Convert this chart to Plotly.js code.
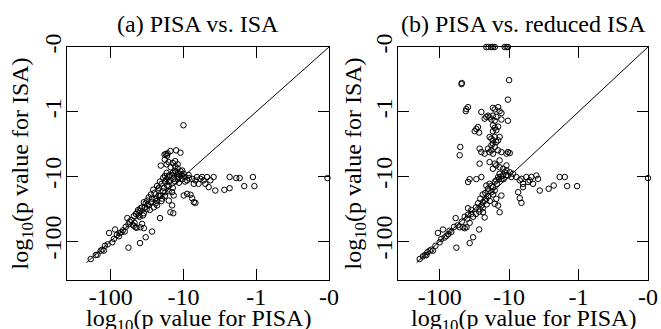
<!DOCTYPE html>
<html><head><meta charset="utf-8">
<script src="https://cdn.plot.ly/plotly-3.0.1.min.js"></script>
<style>html,body{margin:0;padding:0;background:#fff}#c{width:661px;height:329px}</style>
</head><body><div id="c"></div>
<script>
// log10(p value) for each gene set, panel (a): PISA vs ISA
const pisaA = [-188,-160,-152,-137,-130,-124,-105,-87,-95,-77,-71,-64,-57,-59,-50,-47,-45.5,-44,-41,-39,-39,-39.5,-33,-27,-43,-39,-35,-31.5,-30,-28,-25.5,-24,-23,-22.5,-21.8,-21,-20.3,-19.6,-18.6,-17.7,-16.8,-15.9,-15.1,-14.3,-13.6,-12.9,-12.2,-11.6,-11,-10.4,-9.9,-15.9,-14.3,-15.1,-13.8,-13.6,-14.3,
-9.4,-8.9,-8.45,-7.6,-7.2,-6.85,-6.5,-6.2,-5.85,-5.55,-5.27,-5,-4.74,-4.5,-4.27,-3.85,-3.65,-2.74,-2.32,-2.32,-1.88,-1.69,-1.46,-1.11,-1.06,-0.105,
-9.9,-8.9,-8.0,-7.6,-7.2,-6.85,
-25,-22,-20,-18,-17,-16,-19,-21,-23,-26,-28,-30,-33,-35,-37,-42,-45,-48,-52,-55,-36,-32,-27,-24,-20,-18,-16,-14,-13,-12,-11.5,-10.5,-12,-13,-14,-15.5,-17,-18,-11,-10,-9.5,-8.5,-16,-19,-21,-23,-29,-31,-34,-40,-57,-62,-68,-75,-82,-90,-110,-120,-48,-37,-35,
-10,-12.6,-11,-17.5,-16.8,-18.2,-16.5,-15.1,-16,-17,-14,-12,-18,-13,-20.5,-15,-13,-12];
const isaA = [-189,-164,-162,-140,-135,-140,-74.7,-66,-104,-84,-73,-71,-126,-44,-56,-52,-61,-62,-40,-31,-61,-107,-87,-71,-36,-34,-37,-23.6,-28,-25,-30,-22,-28,-16,-15,-44,-19.7,-22,-15,-17.5,-13.8,-12.2,-11.5,-9.65,-10.9,-8.6,-9.65,-10.2,-9.1,-8.1,-9.1,-23.6,-28,-35.7,-37,-19.7,-17.5,
-10.2,-11.5,-10.6,-10.9,-13,-11.5,-10.2,-13,-10.9,-10.2,-11.5,-13,-10.2,-14.6,-11.5,-10.2,-16.5,-16.1,-10.2,-15.2,-10.6,-10.6,-14.1,-10.2,-14.1,-10.6,
-19.7,-18.6,-19.2,-21.7,-25,-25.6,
-18,-20,-13,-12,-11,-10,-10.5,-12,-14,-16,-19,-21,-26,-25,-30,-33,-38,-41,-47,-50,-40,-32,-22,-26,-24,-20,-17,-15,-12,-11,-12.5,-11,-9,-8.2,-8.8,-9.5,-8.8,-9.8,-8.3,-10,-12,-9.5,-14,-17,-20,-24,-33,-27,-30,-42,-55,-60,-68,-75,-80,-92,-112,-118,-58,-54,-63,
-1.62,-3.95,-4.3,-4.5,-4.8,-4.6,-4.4,-4.05,-6,-6.5,-6.2,-6.5,-5.5,-5.8,-6.8,-7.2,-7,-7.5];

// panel (b): PISA vs reduced ISA
const pisaB = [-21.3,-19.8,-18,-17.1,-16.1,-11.6,-10.9,-10.4,
-10,-48.5,-48,-10.4,-42,-41.3,-39.1,-25.1,-17.1,-16.1,-14.4,-13.7,-12.9,-22.5,-21.3,-20.1,-19.1,-18,-17.1,-15.3,-16.1,-12.9,-10.4,
-28.1,-29.6,-31.3,-27,-17.1,-16.1,-15.3,-14.4,-17.1,-19.1,-18,-17.1,-16.1,-14.4,-13.7,-50.5,-51.5,
-26.6,-25.1,-22.5,-20.1,-19.1,-18,-17.1,-16.1,-14.4,-12.9,-18,-17.1,-15.3,-10.4,-9.8,-10.9,-26.6,-19.1,-16.1,-13.7,
-194,-164,-155,-139,-132,-125,-106,-89.6,-100,-80,-72,-58.8,-57.5,-51.5,-46,-43.6,-41,-39,-37,-33,-27,-43.6,-39,-35,-37,
-39,-37,-29.6,-25.1,-23.8,-22.5,-21.3,-25,-26.6,-23.8,-22.5,
-21.3,-20.1,-19.1,-18,-17.1,-16.1,-15.3,-14.4,-13.7,-12.9,-12.2,-11.6,-10.9,-10.4,-9.8,-9.3,-8.8,
-14.4,-13.7,-15.3,-16.1,-12.9,
-7.86,-7.03,-6.65,-6.3,-5.64,-5.34,-5.05,-4.78,-4.52,-4.05,-3.83,-3.62,-2.69,-2.28,-1.87,-1.58,-1.46,-1.05,-0.1,
-7.4,-7.03,-6.65,-6.3,-15.3,-13.7,-12.2,-10.9,-17.1,
-30,-28,-26,-24,-22,-20,-18,-16,-15,-14,-13,-12,-11,-35,-40,-48,-55,-62,-68,-75,-85,-95,-115,-150,-175,-20,-17,-19,-21,-24,-27,-30,-33];
const isaB = [-0.1,-0.1,-0.1,-0.1,-0.1,-0.1,-0.1,-0.1,
-0.325,-0.375,-0.36,-0.65,-0.98,-0.91,-0.85,-1.01,-0.87,-0.92,-0.85,-0.98,-1.05,-1.28,-1.2,-1.15,-1.22,-1.32,-1.15,-1.2,-1.38,-1.32,-1.38,
-1.72,-1.85,-2.0,-2.1,-1.62,-1.78,-1.93,-1.7,-2.0,-2.46,-2.6,-2.77,-2.46,-2.77,-2.46,-3.5,-4.7,
-3.72,-4.2,-4.45,-3.72,-4.2,-3.95,-4.45,-3.5,-3.95,-4.2,-3.3,-3.11,-2.94,-4.2,-4.35,-4.45,-6.35,-6.0,-6.35,-5.65,
-189,-164,-164,-140,-135,-140,-74.7,-66,-104,-83,-69,-44,-126,-61,-61,-63,-61,-31,-107,-87,-66,-42,-39,-38,-52,
-12.2,-11,-11,-10.2,-25,-23.6,-22.2,-28.2,-31.7,-35.7,-43,
-13.8,-15.5,-13,-17.5,-14.6,-16.5,-11.5,-10.2,-9.1,-10.9,-9.65,-8.6,-8.07,-9.65,-8.6,-10.2,-9.1,
-28.2,-35.7,-22.2,-26.5,-19.7,
-10.2,-11.5,-10.9,-13,-10.2,-12.2,-11.5,-10.2,-13,-9.65,-10.9,-16.5,-15.5,-13.8,-10.2,-10.2,-14.1,-14.1,-10.6,
-17.5,-21.7,-25.6,-14.6,-6.75,-7.2,-7.6,-6.75,-7.6,
-30,-26,-22,-19,-18,-17,-14,-12,-13,-11,-10,-11,-9.5,-33,-45,-50,-57,-60,-72,-78,-88,-93,-118,-148,-172,-20,-19,-24,-27,-31,-35,-38,-42];

// diagonal reference line (equal p values)
const diagLogP = [-215, -0.1];
// tick labels
const tickLogP = [-100, -10, -1, -0.1];
const tickText = ['-100', '-10', '-1', '-0'];

const tf = L => -Math.log10(-L);
const minorVals = [];
[0.1, 1, 10, 100].forEach(d => { for (let k = 2; k <= 9; k++) { if (k * d <= 400) minorVals.push(tf(-k * d)); } });

const F = '"Liberation Serif", "Times New Roman", serif';
const mk = {symbol: 'circle-open', size: 5.5, color: '#000', line: {width: 1, color: '#000'}};
const traces = [
  {x: pisaA.map(tf), y: isaA.map(tf), mode: 'markers', marker: mk, xaxis: 'x', yaxis: 'y', cliponaxis: false},
  {x: diagLogP.map(tf), y: diagLogP.map(tf), mode: 'lines', line: {color: '#000', width: 1}, xaxis: 'x', yaxis: 'y'},
  {x: pisaB.map(tf), y: isaB.map(tf), mode: 'markers', marker: mk, xaxis: 'x2', yaxis: 'y2', cliponaxis: false},
  {x: diagLogP.map(tf), y: diagLogP.map(tf), mode: 'lines', line: {color: '#000', width: 1}, xaxis: 'x2', yaxis: 'y2'}
];
function major(domain, anchor, isY) {
  const a = {
    domain, anchor, range: [-2.6, 1], tickmode: 'array', tickvals: tickLogP.map(tf), ticktext: tickText,
    ticks: 'inside', ticklen: 11, tickwidth: 1, tickcolor: '#000', mirror: 'allticks', showline: true,
    linecolor: '#000', linewidth: 1, showgrid: false, zeroline: false, ticklabelstandoff: -5,
    tickfont: {family: F, size: 24, color: '#000'}
  };
  if (isY) { a.tickangle = -90; }
  return a;
}
function minor(over, anchor) {
  return {
    overlaying: over, anchor, range: [-2.6, 1], tickmode: 'array', tickvals: minorVals, showticklabels: false,
    ticks: 'inside', ticklen: 6, tickwidth: 1, tickcolor: '#000', mirror: 'allticks', showline: false,
    showgrid: false, zeroline: false
  };
}
const xA = [67/661, 329/661], xB = [398/661, 648/661], yD = [49/329, 282/329];
const ann = (text, x, y, rot) => ({text, x, y, xref: 'paper', yref: 'paper', showarrow: false,
  xanchor: 'center', yanchor: 'middle', textangle: rot || 0, font: {family: F, size: 24, color: '#000'}});
const layout = {
  width: 661, height: 329, margin: {l: 0, r: 0, t: 0, b: 0}, paper_bgcolor: '#fff', plot_bgcolor: '#fff',
  showlegend: false,
  xaxis: major(xA, 'y', false), yaxis: major(yD, 'x', true),
  xaxis2: major(xB, 'y2', false), yaxis2: major(yD, 'x2', true),
  xaxis3: minor('x', 'y'), yaxis3: minor('y', 'x'),
  xaxis4: minor('x2', 'y2'), yaxis4: minor('y2', 'x2'),
  annotations: [
    ann('(a) PISA vs. ISA', 198/661, 1 - 24/329),
    ann('(b) PISA vs. reduced ISA', 523/661, 1 - 24/329),
    ann('log<sub>10</sub>(p value for PISA)', 198/661, 1 - 320/329),
    ann('log<sub>10</sub>(p value for PISA)', 523/661, 1 - 320/329),
    ann('log<sub>10</sub>(p value for ISA)', 21/661, 1 - 163.5/329, -90),
    ann('log<sub>10</sub>(p value for ISA)', 354/661, 1 - 163.5/329, -90)
  ]
};
Plotly.newPlot('c', traces, layout, {displayModeBar: false, staticPlot: true});
</script></body></html>
